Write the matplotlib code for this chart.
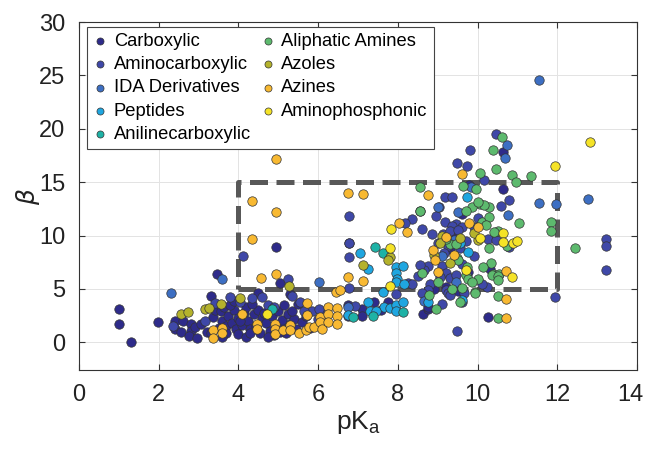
import numpy as np
import matplotlib.pyplot as plt
from matplotlib.transforms import ScaledTranslation

plt.rcParams['font.family'] = ['Liberation Sans', 'DejaVu Sans']

# (pKa, beta) pairs, one list per ligand class
carboxylic = [(1.0,3.1),(1.0,1.7),(1.3,0.0),(1.97,1.9),(2.4,2.0),(2.4,1.2),(2.55,1.0),(2.6,2.0),
    (2.8,1.75),(2.8,1.1),(2.75,0.6),(2.95,0.4),(2.9,1.45),(3.05,1.7),(3.2,1.0),(3.35,2.4),(3.4,3.0),
    (3.45,6.4),(3.55,2.9),(3.6,2.0),(3.65,3.3),(3.7,1.5),(3.7,0.9),(3.75,2.5),(3.85,1.8),(3.9,3.0),
    (3.95,1.2),(4.0,2.3),(4.0,0.8),(4.1,1.6),(4.15,2.7),(4.2,0.5),(4.2,3.3),(4.25,2.0),(4.3,1.2),
    (4.4,2.6),(4.45,1.5),(4.5,3.0),(4.55,0.9),(4.6,2.2),(4.7,1.8),(4.8,1.1),(4.85,2.5),(4.9,0.7),
    (4.95,1.6),(5.0,2.9),(5.1,1.3),(5.1,2.1),(5.2,0.9),(5.25,2.6),(5.3,1.7),(5.4,2.2),(5.45,1.2),
    (5.6,1.9),(5.8,1.3),(4.94,8.95),(5.04,5.57),(3.3,0.9),(3.5,1.3),(3.8,3.5),(4.05,2.0),(4.35,3.6),
    (4.65,2.7),(4.75,0.5),(5.15,3.5),(5.35,2.9),(5.5,3.6),(5.7,2.5),(3.3,4.3),(3.9,3.9),(4.5,4.6),
    (5.3,4.5),(5.05,1.0),(4.3,0.9),(3.6,0.5),
    (6.76,3.47),(6.76,2.44),(7.11,3.16),(7.11,2.44),(7.41,3.79),(7.57,3.0),(7.76,3.75),(8.64,2.63),
    (8.75,3.1),(8.75,3.3),(10.25,2.35),(9.79,14.7),(10.65,17.8),(10.65,14.4),(9.77,6.6),(9.4,9.9),
    (9.3,8.7),(9.2,5.2),(8.9,5.0),(9.5,4.8),(10.3,6.9),(9.6,12.0)]
aminocarboxylic = [(3.8,4.2),(4.05,3.8),(4.35,4.1),(4.6,4.2),(4.75,3.5),(5.25,5.9),(5.35,4.3),
    (5.55,3.8),(5.85,2.9),(6.0,2.2),(6.1,1.6),(6.2,2.6),(6.01,3.07),(4.12,8.07),(3.15,2.0),(2.35,1.5),
    (4.9,3.3),(5.65,2.9),(3.4,3.7),
    (6.78,11.83),(6.78,9.32),(6.78,8.0),(6.92,3.4),(6.78,5.04),(7.95,4.5),(8.25,5.55),(8.35,5.5),
    (8.75,7.1),(8.8,5.5),(8.75,4.9),(9.1,7.1),(9.2,6.5),(9.2,4.9),(9.27,4.63),(9.6,3.79),(9.48,1.06),
    (10.23,5.13),(9.49,16.8),(10.45,19.5),(9.81,18.0),(9.74,16.5),(10.16,15.2),(9.17,13.6),
    (9.37,13.65),(10.8,13.3),(10.59,12.8),(9.02,12.65),(8.95,11.8),(9.18,11.3),(8.55,12.3),
    (8.35,11.5),(8.19,11.15),(8.6,10.65),(8.85,10.15),(9.12,10.15),(9.45,11.1),(9.35,10.9),
    (9.6,10.8),(10.25,9.7),(10.45,9.6),(10.8,8.9),(13.21,9.67),(13.21,9.04),(13.21,6.76),
    (11.94,4.2),(6.77,9.27),(8.5,6.2),(8.65,6.8),(8.55,7.2),(9.05,6.1),(9.3,6.0),(9.45,6.3),
    (9.0,9.3),(9.25,9.0),(9.55,8.8),(9.7,9.5),(9.3,10.4),(9.5,10.5),(9.15,8.4),(9.6,7.3),(9.1,3.6),
    (9.3,4.4),(9.65,4.6),(8.6,4.6),(9.9,10.8),(9.9,8.1),(10.0,11.6),(10.1,5.5)]
ida = [(2.31,4.57),(3.6,5.89),(6.02,5.6),(6.76,3.31),(11.55,24.6),(10.75,18.5),(10.69,17.3),
    (11.55,13.0),(11.97,12.96),(12.76,13.4),(10.76,11.9),(9.01,12.7),(9.52,12.2),(9.84,14.5),
    (9.4,9.6),(9.1,8.1),(8.65,3.9),(9.45,5.6)]
peptides = [(7.05,8.39),(7.26,6.82),(7.95,7.07),(7.95,6.5),(7.98,5.9),(7.95,5.6),(8.14,7.1),
    (8.15,5.45),(6.76,2.54),(7.26,3.79),(7.3,2.94),(7.64,3.3),(7.8,3.2),(7.95,3.5),(8.13,3.8),
    (7.96,2.9),(7.62,4.72),(8.75,3.8),(9.74,13.65),(9.77,8.5),(9.55,9.3),(9.6,4.0),(7.45,2.9)]
anilinecarboxylic = [(4.83,3.07),(7.43,8.9),(7.62,8.39),(6.88,2.4),(7.38,2.44),(8.14,2.85)]
aliphatic = [(10.6,19.2),(10.38,18.0),(10.06,15.9),(10.46,16.2),(10.86,15.65),(11.34,15.6),
    (10.96,15.05),(8.55,14.5),(9.64,14.6),(9.96,14.4),(10.06,12.96),(10.28,12.7),(10.15,12.9),
    (9.85,12.65),(8.55,12.3),(10.1,11.3),(10.29,11.7),(11.04,11.2),(10.51,10.45),(11.83,11.3),
    (11.83,10.45),(12.44,8.8),(8.6,6.45),(8.77,4.4),(8.96,3.07),(9.74,7.07),(9.72,6.3),(9.76,5.9),
    (9.94,4.72),(10.02,5.9),(10.34,7.45),(10.39,6.4),(10.54,6.4),(10.52,4.32),(10.5,2.3),
    (10.29,8.8),(10.14,7.07),(10.35,6.3),(10.5,6.2),(10.5,5.8),(9.85,5.6),(9.6,5.1),(9.3,9.2),
    (9.45,9.2),(9.48,7.86),(9.93,4.57),(9.5,7.7),(9.56,3.79),(10.0,13.1),(9.7,12.3),(10.4,10.3),
    (9.2,9.7),(9.0,5.6),(10.2,11.0),(10.75,9.0),(9.35,5.0)]
azoles = [(2.55,2.63),(2.74,2.79),(3.16,3.16),(3.25,3.2),(3.56,3.54),(4.04,4.1),(5.28,5.26),
    (7.13,7.23),(7.79,7.95),(7.76,7.75),(9.1,10.0),(9.06,9.27),(10.0,9.6),(9.55,9.8),(9.9,10.2),
    (9.3,7.4),(8.9,8.2)]
azines = [(4.94,17.15),(4.35,13.24),(4.94,12.24),(4.35,9.64),(6.76,13.96),(7.12,13.87),(8.04,11.15),
    (8.22,10.3),(8.76,13.8),(9.62,15.8),(9.79,11.2),(10.71,6.7),(10.71,4.04),(10.71,2.25),(8.89,8.6),
    (8.93,7.7),(9.01,6.6),(4.56,5.98),(4.93,6.36),(5.71,3.69),(6.76,6.13),(7.12,5.76),(6.45,4.72),
    (6.55,4.88),(4.1,2.63),(3.35,1.19),(3.35,0.44),(3.59,1.35),(3.59,0.88),(4.08,2.69),(4.47,1.75),
    (4.47,1.28),(4.92,1.75),(4.92,1.28),(4.92,0.75),(5.11,1.13),(5.29,1.6),(5.29,1.13),(5.53,0.88),
    (5.70,1.13),(5.78,1.44),(5.9,1.44),(5.71,2.54),(6.05,2.38),(6.05,1.91),(6.09,1.28),(6.25,3.31),
    (6.25,2.69),(6.48,3.25),(6.48,2.44),(6.25,1.91),(6.48,1.69),(9.4,8.2),(10.0,10.8),(9.2,9.9)]
aminophosphonic = [(4.72,2.63),(7.8,5.3),(7.82,10.65),(7.8,8.8),(10.65,10.25),(10.65,9.42),
    (10.9,9.3),(11.0,9.45),(10.87,6.13),(11.93,16.5),(12.82,18.8),(10.05,9.8),(9.7,6.8)]

groups = [carboxylic, aminocarboxylic, ida, peptides, anilinecarboxylic,
          aliphatic, azoles, azines, aminophosphonic]
labels = ['Carboxylic', 'Aminocarboxylic', 'IDA Derivatives', 'Peptides', 'Anilinecarboxylic',
          'Aliphatic Amines', 'Azoles', 'Azines', 'Aminophosphonic']
colors = ['#2e2b8a', '#3f48a8', '#3d6fc3', '#1fa6e0', '#1eb2a6',
          '#5dba6e', '#b4b22c', '#f8b932', '#f5e327']

# region of interest box
box_x = [4, 12, 12, 4, 4]
box_y = [5, 5, 15, 15, 5]

fig = plt.figure(figsize=(6.46, 4.55), dpi=100)
ax = fig.add_axes([0.1223, 0.1868, 0.8638, 0.7648])

ax.plot(box_x, box_y, color='#585858', lw=3.6, ls=(0, (3.6, 1.7)), zorder=2,
        solid_capstyle='butt', dash_capstyle='butt')

for pts, lab, col in zip(groups, labels, colors):
    xy = np.array(pts)
    ax.scatter(xy[:, 0], xy[:, 1], s=46, c=col, edgecolors='#333333', linewidths=0.5,
               label=lab, zorder=3)

ax.set_xlim(0, 14)
ax.set_ylim(-2.6, 30)
ax.set_xticks(np.arange(0, 15, 2))
ax.set_yticks(np.arange(0, 31, 5))
ax.grid(True, color='#e3e3e3', lw=0.7, zorder=0)
ax.set_axisbelow(True)
ax.tick_params(direction='in', top=True, right=True, labelsize=17, length=4,
               color='#333333', labelcolor='#222222', pad=10)
for sp in ax.spines.values():
    sp.set_color('#333333')
    sp.set_linewidth(0.8)

# keep the last x tick label inside the figure
last = ax.get_xticklabels()[-1]
last.set_transform(last.get_transform() + ScaledTranslation(-5/72, 0, fig.dpi_scale_trans))

ax.set_xlabel('pK$_\\mathregular{a}$', fontsize=19, color='#222222', labelpad=2)
ax.set_ylabel('$\\beta$', fontsize=18, color='#222222', labelpad=-2)

leg = ax.legend(ncol=2, loc='upper left', bbox_to_anchor=(0.014, 0.986), borderaxespad=0,
                fontsize=13.2, frameon=True, fancybox=False, edgecolor='#444444',
                framealpha=1, markerscale=0.75, handletextpad=0.35, columnspacing=0.5,
                labelspacing=0.34, borderpad=0.33, handlelength=0.8)
leg.get_frame().set_linewidth(0.8)

fig.savefig('out.png', dpi=100)
